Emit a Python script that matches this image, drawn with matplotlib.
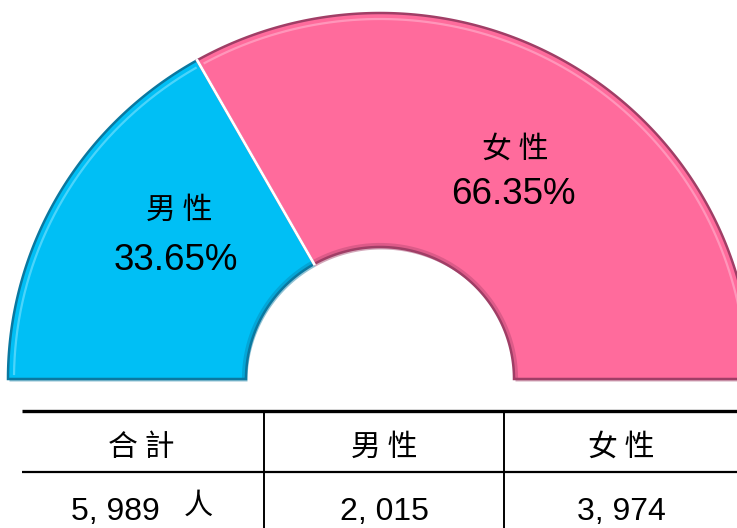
import numpy as np
import matplotlib.pyplot as plt
from matplotlib.patches import Polygon

plt.rcParams['font.family'] = ['Liberation Sans', 'Noto Sans CJK TC']

# data
labels = ['男性', '女性']
counts = [2015, 3974]
colors = ['#00BFF5', '#FF6B9C']
edge_colors = ['#0a78a0', '#a03e66']
light_colors = ['#7ee3ff', '#ffb3cf']
header = ['合計', '男性', '女性']
unit = '人'

total = sum(counts)

W, H = 737, 528
fig = plt.figure(figsize=(W / 100, H / 100), dpi=100)
ax = fig.add_axes([0, 0, 1, 1])
ax.set_xlim(0, W)
ax.set_ylim(0, H)
ax.axis('off')

# half donut in pixel coords (y up)
cx, cy = 380, H - 379
rx_out, ry_out = 372, 366
rx_in, ry_in = 134, 132


def ring_pts(t1, t2, sx, sy, n=200):
    t = np.deg2rad(np.linspace(t1, t2, n))
    return np.column_stack([cx + sx * np.cos(t), cy + sy * np.sin(t)])


start = 180
spans = []
for c, col, ec, lc in zip(counts, colors, edge_colors, light_colors):
    ang = c / total * 180
    t1, t2 = start - ang, start
    outer = ring_pts(t1, t2, rx_out, ry_out)
    inner = ring_pts(t2, t1, rx_in, ry_in)
    pts = np.vstack([outer, inner])
    # soft shadow
    ax.add_patch(Polygon(pts + [1.5, -2.5], closed=True, facecolor=ec,
                         edgecolor='none', alpha=0.45))
    ax.add_patch(Polygon(pts, closed=True, facecolor=col, edgecolor=ec, linewidth=1.8))
    # bevel: dark band along the inner edge, light line inside the outer edge
    ib = ring_pts(t1 + 0.5, t2 - 0.5, rx_in + 2, ry_in + 2)
    ax.plot(ib[:, 0], ib[:, 1], color=ec, lw=3, alpha=0.35)
    hl = ring_pts(t1 + 0.8, t2 - 0.8, rx_out - 6, ry_out - 6)
    ax.plot(hl[:, 0], hl[:, 1], color=lc, lw=1.6, alpha=0.6)
    spans.append((t1, t2))
    start = t1

# white separator between the slices
a = np.deg2rad(spans[0][0])
ax.plot([cx + rx_in * np.cos(a), cx + rx_out * np.cos(a)],
        [cy + ry_in * np.sin(a), cy + ry_out * np.sin(a)],
        color='white', lw=2.0)

# labels inside the ring
label_pos = [((179, H - 210), (176, H - 260)), ((515, H - 149), (513, H - 195))]
for lab, c, (p1, p2) in zip(labels, counts, label_pos):
    ax.text(p1[0], p1[1], lab[0] + ' ' + lab[1], ha='center', va='center',
            fontsize=21.5, family=['Noto Sans CJK TC'])
    ax.text(p2[0], p2[1], f'{c / total * 100:.2f}%', ha='center', va='center',
            fontsize=26.5)

# table
ax.plot([22, W], [H - 411, H - 411], color='black', lw=2.4, solid_capstyle='butt')
ax.plot([22, W], [H - 472, H - 472], color='black', lw=1.6, solid_capstyle='butt')
for x in [264, 504]:
    ax.plot([x, x], [H - 411, 0], color='black', lw=1.4)

col_x = [141, 384, 621]
values = [f'{total:,}'.replace(',', ', '), f'{counts[0]:,}'.replace(',', ', '),
          f'{counts[1]:,}'.replace(',', ', ')]
for i, (hd, v) in enumerate(zip(header, values)):
    ax.text(col_x[i], H - 447, hd[0] + ' ' + hd[1], ha='center', va='center',
            fontsize=21.5, family=['Noto Sans CJK TC'])
    if i == 0:
        ax.text(col_x[i] - 26, H - 512, v, ha='center', va='center', fontsize=23)
        ax.text(198, H - 506, unit, ha='center', va='center', fontsize=21,
                family=['Noto Sans CJK TC'])
    else:
        ax.text(col_x[i], H - 512, v, ha='center', va='center', fontsize=23)

fig.savefig('out.png', dpi=100)
